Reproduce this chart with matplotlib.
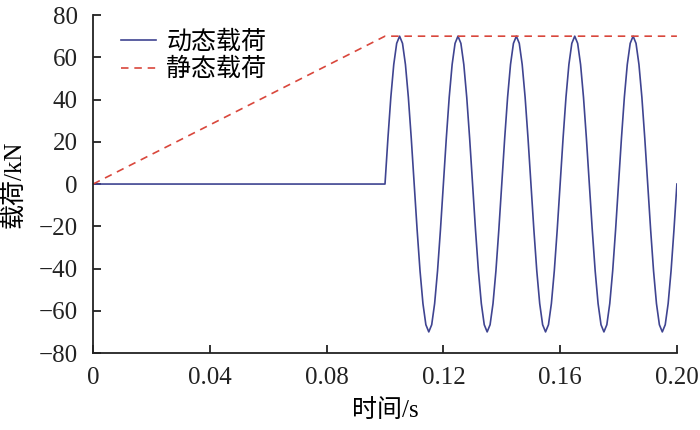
import numpy as np
import matplotlib
matplotlib.use("Agg")
import matplotlib.pyplot as plt

plt.rcParams['font.family'] = ['Liberation Serif', 'Noto Sans CJK SC']
plt.rcParams['axes.unicode_minus'] = True

# Static load (ramp then constant)
static_t = [0.0, 0.1, 0.2]
static_v = [0.0, 70.0, 70.0]

# Dynamic load: zero until 0.1 s, then sampled oscillation (1 ms samples)
dyn_pre_t = [0.0, 0.1]
dyn_pre_v = [0.0, 0.0]
dyn_v = [
    0, 21.6, 41.1, 56.6, 66.6, 70, 66.6, 56.6, 41.1, 21.6,
    0, -21.6, -41.1, -56.6, -66.6, -70, -66.6, -56.6, -41.1, -21.6,
    0, 21.6, 41.1, 56.6, 66.6, 70, 66.6, 56.6, 41.1, 21.6,
    0, -21.6, -41.1, -56.6, -66.6, -70, -66.6, -56.6, -41.1, -21.6,
    0, 21.6, 41.1, 56.6, 66.6, 70, 66.6, 56.6, 41.1, 21.6,
    0, -21.6, -41.1, -56.6, -66.6, -70, -66.6, -56.6, -41.1, -21.6,
    0, 21.6, 41.1, 56.6, 66.6, 70, 66.6, 56.6, 41.1, 21.6,
    0, -21.6, -41.1, -56.6, -66.6, -70, -66.6, -56.6, -41.1, -21.6,
    0, 21.6, 41.1, 56.6, 66.6, 70, 66.6, 56.6, 41.1, 21.6,
    0, -21.6, -41.1, -56.6, -66.6, -70, -66.6, -56.6, -41.1, -21.6,
    0,
]
dyn_t = np.round(0.1 + 0.001 * np.arange(len(dyn_v)), 4)

x_ticks = [0, 0.04, 0.08, 0.12, 0.16, 0.20]
x_labels = ['0', '0.04', '0.08', '0.12', '0.16', '0.20']
y_ticks = [-80, -60, -40, -20, 0, 20, 40, 60, 80]

fig = plt.figure(figsize=(7, 4.3), dpi=100)
ax = fig.add_axes([0.133, 0.179, 0.834, 0.786])

t_all = list(dyn_pre_t) + list(dyn_t[1:])
v_all = list(dyn_pre_v) + list(dyn_v[1:])
ax.plot(t_all, v_all, color='#3f4491', lw=1.2, label='动态载荷')
ax.plot(static_t, static_v, color='#d9473c', lw=1.2, ls=(0, (4.5, 3.5)), label='静态载荷')

ax.set_xlim(0, 0.2)
ax.set_ylim(-80, 80)
ax.set_xticks(x_ticks)
ax.set_xticklabels(x_labels)
ax.set_yticks(y_ticks)
for s in ['top', 'right']:
    ax.spines[s].set_visible(False)
for s in ['left', 'bottom']:
    ax.spines[s].set_linewidth(1.3)
    ax.spines[s].set_color('#222222')
ax.tick_params(direction='in', length=6, width=1.3, labelsize=18, colors='#222222')
ax.tick_params(axis='x', pad=10)
ax.tick_params(axis='y', pad=11)

ax.set_xlabel('时间/s', fontsize=18, family=['Liberation Serif', 'Noto Sans CJK SC'])
ax.set_ylabel('载荷/kN', fontsize=18, family=['Liberation Serif', 'Noto Sans CJK SC'])
ax.xaxis.set_label_coords(0.5, -0.17, transform=ax.transAxes)
ax.yaxis.set_label_coords(-0.135, 0.5, transform=ax.transAxes)
ax.xaxis.label.set_va('center')
ax.yaxis.label.set_va('center')

leg = ax.legend(loc='upper left', bbox_to_anchor=(0.01, 1.025), frameon=False,
                prop={'family': ['Noto Sans CJK SC'], 'size': 18},
                handlelength=1.4, handletextpad=0.4, labelspacing=0.05)

fig.savefig('out.png', dpi=100)
